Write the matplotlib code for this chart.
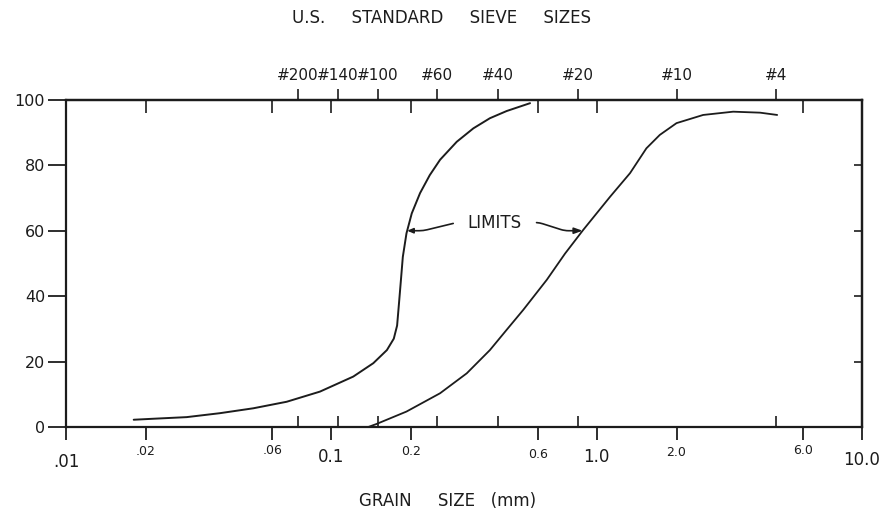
import numpy as np
import matplotlib.pyplot as plt
from matplotlib.ticker import NullFormatter

# grain size axis (mm) and US standard sieve openings
grain_ticks = [0.01, 0.02, 0.06, 0.1, 0.2, 0.6, 1.0, 2.0, 6.0, 10.0]
grain_labels = ['.01', '.02', '.06', '0.1', '0.2', '0.6', '1.0', '2.0', '6.0', '10.0']
sieve_mm = [0.075, 0.106, 0.150, 0.250, 0.425, 0.850, 2.00, 4.75]
sieve_labels = ['#200', '#140', '#100', '#60', '#40', '#20', '#10', '#4']
percent_ticks = [0, 20, 40, 60, 80, 100]

# fine limit curve
fine_size = [0.018, 0.0213, 0.0285, 0.038, 0.0508, 0.0679, 0.0906, 0.121, 0.144,
             0.162, 0.172, 0.177, 0.180, 0.183, 0.186, 0.192, 0.201, 0.216, 0.235, 0.257,
             0.297, 0.343, 0.396, 0.458, 0.561]
fine_pass = [2.2, 2.5, 3.0, 4.2, 5.7, 7.7, 10.8, 15.4, 19.5,
             23.5, 27.0, 31.0, 38.0, 45.0, 52.0, 59.2, 65.3, 71.5, 77.0, 81.7,
             87.2, 91.3, 94.4, 96.6, 99.0]

# coarse limit curve
coarse_size = [0.138, 0.148, 0.192, 0.257, 0.324, 0.396, 0.458, 0.529, 0.649, 0.76,
               0.889, 1.124, 1.336, 1.54, 1.73, 2.0, 2.52, 3.27, 4.13, 4.79]
coarse_pass = [0.0, 0.9, 4.7, 10.3, 16.4, 23.5, 29.7, 35.8, 45.0, 53.0,
               60.2, 70.4, 77.6, 85.2, 89.3, 92.9, 95.4, 96.4, 96.1, 95.4]

limit_level = 60

ink = '#1c1c1c'
plt.rcParams['font.family'] = ['DejaVu Sans']

fig = plt.figure(figsize=(8.82, 5.15), dpi=100)
ax = fig.add_axes([0.0748, 0.171, 0.9025, 0.635])

ax.plot(fine_size, fine_pass, color=ink, lw=1.4, solid_capstyle='round')
ax.plot(coarse_size, coarse_pass, color=ink, lw=1.3, solid_capstyle='round')

ax.set_xscale('log')
ax.set_xlim(0.01, 10)
ax.set_ylim(0, 100)

for sp in ax.spines.values():
    sp.set_linewidth(1.6)
    sp.set_color(ink)

# bottom: grain sizes outward, sieve marks inward
ax.set_xticks(grain_ticks, grain_labels)
ax.set_xticks(sieve_mm, minor=True)
ax.xaxis.set_minor_formatter(NullFormatter())
ax.tick_params(axis='x', which='major', direction='out', length=9, width=1.3, colors=ink)
ax.tick_params(axis='x', which='minor', direction='in', length=8, width=1.2, colors=ink)
label_sizes = [12, 9, 9, 12, 9, 9, 12, 9, 9, 12]
label_pads = [10, 4, 3, 6, 4, 6, 6, 5, 3, 8]
for tick, size, pad in zip(ax.xaxis.get_major_ticks(), label_sizes, label_pads):
    tick.label1.set_fontsize(size)
    tick.set_pad(pad)

ax.set_yticks(percent_ticks)
ax.tick_params(axis='y', direction='out', length=13, width=1.3, labelsize=11.5, pad=2, colors=ink)

# right side: small inward marks
right = ax.secondary_yaxis('right')
right.set_yticks(percent_ticks[1:-1])
right.tick_params(direction='in', length=6, width=1.2, labelright=False, colors=ink)
right.spines['right'].set_linewidth(1.6)

# top: sieve numbers outward, grain sizes inward
top = ax.secondary_xaxis('top')
top.set_xticks(sieve_mm, sieve_labels)
top.set_xticks(grain_ticks, minor=True)
top.xaxis.set_minor_formatter(NullFormatter())
top.tick_params(which='major', direction='out', length=8, width=1.2, pad=4, labelsize=11, colors=ink)
top.tick_params(which='minor', direction='in', length=9, width=1.2, colors=ink)
top.spines['top'].set_linewidth(1.6)

# LIMITS callout pointing at both curves at the same percentage
fine_at = np.exp(np.interp(limit_level, fine_pass, np.log(fine_size)))
coarse_at = np.exp(np.interp(limit_level, coarse_pass, np.log(coarse_size)))
label_x = np.sqrt(fine_at * coarse_at)
ax.text(label_x, limit_level + 2.5, 'LIMITS', ha='center', va='center',
        fontsize=12, color=ink)
ax.annotate('', xy=(fine_at, limit_level), xytext=(label_x, limit_level + 2.5),
            arrowprops=dict(arrowstyle='-|>,head_length=0.35,head_width=0.15', color=ink, lw=1.2,
                            shrinkA=30, shrinkB=0,
                            connectionstyle='arc,angleA=180,armA=38,angleB=0,armB=16,rad=4'))
ax.annotate('', xy=(coarse_at, limit_level), xytext=(label_x, limit_level + 2.5),
            arrowprops=dict(arrowstyle='-|>,head_length=0.5,head_width=0.18', color=ink, lw=1.2,
                            shrinkA=30, shrinkB=0,
                            connectionstyle='arc,angleA=0,armA=44,angleB=180,armB=18,rad=4'))

fig.text(0.501, 0.965, 'U.S.     STANDARD     SIEVE     SIZES', ha='center', va='center',
         fontsize=12, color=ink)
fig.text(0.507, 0.027, 'GRAIN     SIZE   (mm)', ha='center', va='center',
         fontsize=12, color=ink)

fig.savefig('out.png', dpi=100, facecolor='white')
